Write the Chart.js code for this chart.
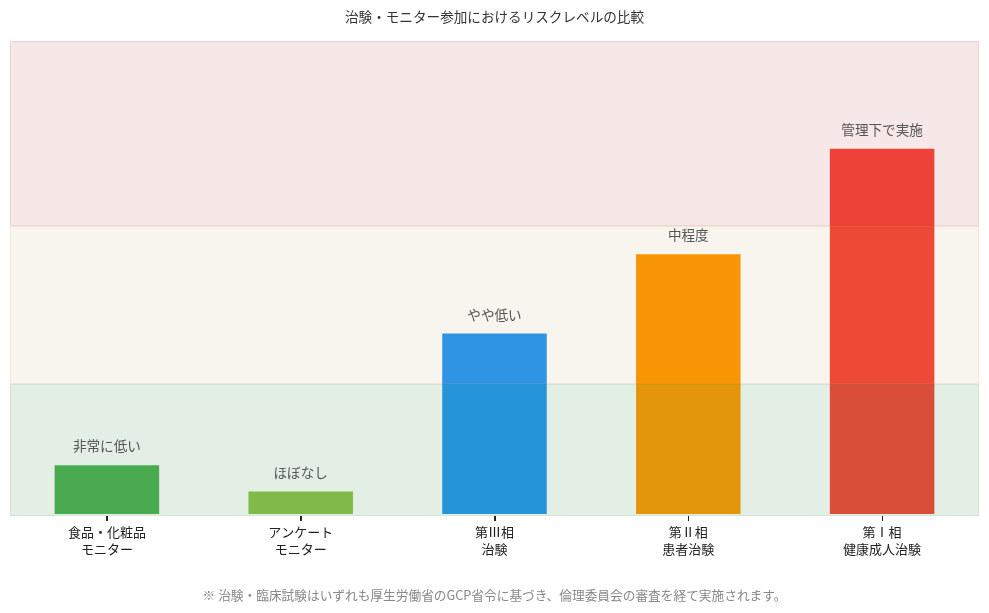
<!DOCTYPE html>
<html lang="ja">
<head>
<meta charset="utf-8">
<script src="https://cdn.jsdelivr.net/npm/chart.js@4/dist/chart.umd.min.js"></script>
<style>
  html, body { margin: 0; padding: 0; background: #ffffff; }
  #wrap { width: 989px; height: 613px; }
</style>
</head>
<body>
<div id="wrap"><canvas id="c" width="989" height="613"></canvas></div>
<script>
const titleText = '治験・モニター参加におけるリスクレベルの比較';
const footerText = '※ 治験・臨床試験はいずれも厚生労働省のGCP省令に基づき、倫理委員会の審査を経て実施されます。';
const categories = [
  ['食品・化粧品', 'モニター'],
  ['アンケート', 'モニター'],
  ['第Ⅲ相', '治験'],
  ['第Ⅱ相', '患者治験'],
  ['第Ⅰ相', '健康成人治験']
];
const riskValues = [1, 0.5, 3.5, 5, 7];
const riskLabels = ['非常に低い', 'ほぼなし', 'やや低い', '中程度', '管理下で実施'];
const barColors = ['#4CAF50', '#8BC34A', '#2196F3', '#FF9800', '#F44336'];
const bandRanges = [[0, 2.5], [2.5, 5.5], [5.5, 9]];
const bandFills = ['rgba(68,142,75,0.15)', 'rgba(175,135,65,0.09)', 'rgba(188,63,63,0.12)'];
const bandBorders = ['rgba(68,142,75,0.10)', 'rgba(200,150,80,0.15)', 'rgba(230,90,80,0.15)'];
const yMax = 9;

const FONT = '"Noto Sans CJK JP", "Noto Sans", sans-serif';

const overlayPlugin = {
  id: 'overlay',
  afterDatasetsDraw(chart) {
    const { ctx, chartArea, scales } = chart;
    const y = scales.y;
    ctx.save();
    bandRanges.forEach((r, i) => {
      const top = Math.round(y.getPixelForValue(r[1]));
      const bottom = Math.round(y.getPixelForValue(r[0]));
      ctx.fillStyle = bandFills[i];
      ctx.fillRect(chartArea.left, top, chartArea.right - chartArea.left, bottom - top);
      ctx.strokeStyle = bandBorders[i];
      ctx.lineWidth = 1;
      ctx.strokeRect(chartArea.left + 0.5, top + 0.5, chartArea.right - chartArea.left - 1, bottom - top - 1);
    });
    const meta = chart.getDatasetMeta(0);
    ctx.fillStyle = '#555555';
    ctx.font = '13.6px ' + FONT;
    ctx.textAlign = 'center';
    ctx.textBaseline = 'middle';
    meta.data.forEach((bar, i) => {
      ctx.fillText(riskLabels[i], bar.x, bar.y - 17);
    });
    const x = scales.x;
    ctx.strokeStyle = '#222222';
    ctx.lineWidth = 1;
    ctx.beginPath();
    x.ticks.forEach((t, i) => {
      const px = Math.round(x.getPixelForTick(i)) + 0.5;
      ctx.moveTo(px, chartArea.bottom);
      ctx.lineTo(px, chartArea.bottom + 5);
    });
    ctx.stroke();
    ctx.restore();
  }
};

new Chart(document.getElementById('c'), {
  type: 'bar',
  data: {
    labels: categories,
    datasets: [{
      data: riskValues,
      backgroundColor: barColors,
      borderColor: 'rgba(255,255,255,0.85)',
      borderWidth: 2,
      borderSkipped: false,
      barPercentage: 0.56,
      categoryPercentage: 1
    }]
  },
  options: {
    responsive: false,
    animation: false,
    layout: { padding: { left: 10, right: 10, top: 0, bottom: 0 } },
    plugins: {
      legend: { display: false },
      tooltip: { enabled: false },
      title: {
        display: true,
        text: titleText,
        color: '#333333',
        font: { family: FONT, size: 13.6, weight: 'normal' },
        padding: { top: 9, bottom: 16 }
      },
      subtitle: {
        display: true,
        position: 'bottom',
        text: footerText,
        color: '#888888',
        font: { family: FONT, size: 12.7, weight: 'normal' },
        padding: { top: 27, bottom: 10 }
      }
    },
    scales: {
      x: {
        border: { display: false },
        grid: { display: true, offset: false, drawOnChartArea: false, drawTicks: true, tickLength: 5, lineWidth: 1, color: '#222222' },
        ticks: {
          color: '#222222',
          font: { family: FONT, size: 13, lineHeight: 1.3 },
          padding: 3,
          maxRotation: 0,
          autoSkip: false
        }
      },
      y: {
        display: false,
        min: 0,
        max: yMax
      }
    }
  },
  plugins: [overlayPlugin]
});
</script>
</body>
</html>
